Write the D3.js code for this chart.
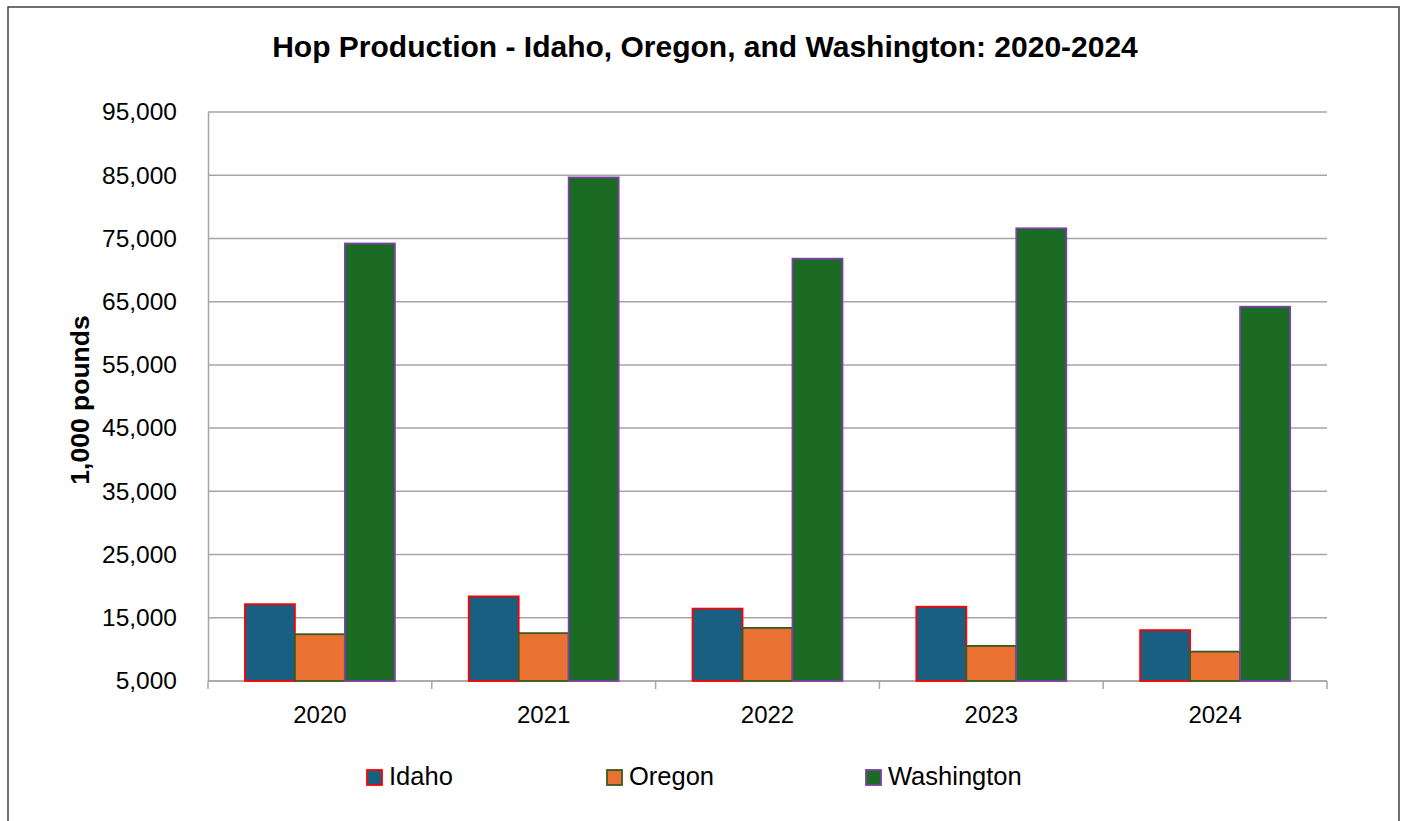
<!DOCTYPE html>
<html>
<head>
<meta charset="utf-8">
<script src="https://cdn.jsdelivr.net/npm/d3@7"></script>
<style>
  body { margin: 0; background: #fff; }
  svg { display: block; }
</style>
</head>
<body>
<svg id="chart" width="1406" height="821"></svg>
<script>
// data
var years = ["2020", "2021", "2022", "2023", "2024"];
var states = ["Idaho", "Oregon", "Washington"];
var idaho = [17150, 18380, 16450, 16750, 13050];
var oregon = [12400, 12570, 13400, 10550, 9650];
var washington = [74200, 84650, 71800, 76600, 64200];
var yTicks = [5000, 15000, 25000, 35000, 45000, 55000, 65000, 75000, 85000, 95000];

var fills = ["#185f82", "#e97132", "#1b6b24"];
var strokes = ["#ff0000", "#3a5a1e", "#7b3fa6"];

var svg = d3.select("#chart"),
    margin = {left: 208, right: 79, top: 112, bottom: 140},
    width = 1406 - margin.left - margin.right,
    height = 821 - margin.top - margin.bottom;

// outer frame
svg.append("rect")
    .attr("x", 8).attr("y", 7)
    .attr("width", 1391).attr("height", 830)
    .attr("fill", "none")
    .attr("stroke", "#404040")
    .attr("stroke-width", 1.5);

svg.append("text")
    .attr("x", 705).attr("y", 57)
    .attr("text-anchor", "middle")
    .style("font-family", "'Liberation Sans', Arial, sans-serif")
    .style("font-weight", "bold")
    .style("font-size", "30px")
    .text("Hop Production - Idaho, Oregon, and Washington: 2020-2024");

var g = svg.append("g")
    .attr("transform", "translate(" + margin.left + "," + margin.top + ")");

var x = d3.scaleBand().domain(years).range([0, width]).paddingInner(0.33).paddingOuter(0.165);
var xs = d3.scaleBand().domain(states).range([0, x.bandwidth()]);
var y = d3.scaleLinear().domain([5000, 95000]).range([height, 0]);

//gridlines
g.selectAll(".grid")
    .data(yTicks)
    .enter().append("line")
    .attr("x1", 0).attr("x2", width)
    .attr("y1", function (d) { return y(d); })
    .attr("y2", function (d) { return y(d); })
    .attr("stroke", "#a6a6a6")
    .attr("stroke-width", 1.5);

// y axis
var yAxis = g.append("g")
    .call(d3.axisLeft(y).tickValues(yTicks).tickFormat(d3.format(",")).tickSize(0).tickPadding(31));
yAxis.select(".domain").attr("stroke", "#a6a6a6").attr("stroke-width", 1.5);
yAxis.selectAll("text")
    .style("font-family", "'Liberation Sans', Arial, sans-serif")
    .style("font-size", "24.5px")
    .attr("fill", "#000");

// x axis with ticks at band edges
var xAxis = g.append("g").attr("transform", "translate(0," + height + ")");
var edges = d3.range(years.length + 1).map(function (i) { return i * width / years.length; });
xAxis.append("line")
    .attr("x1", 0).attr("x2", width)
    .attr("stroke", "#a6a6a6").attr("stroke-width", 1.5);
xAxis.selectAll(".tk")
    .data(edges)
    .enter().append("line")
    .attr("x1", function (d) { return d; }).attr("x2", function (d) { return d; })
    .attr("y1", 0).attr("y2", 8)
    .attr("stroke", "#a6a6a6").attr("stroke-width", 1.5);
xAxis.selectAll(".lbl")
    .data(years)
    .enter().append("text")
    .attr("x", function (d, i) { return (edges[i] + edges[i + 1]) / 2; })
    .attr("y", 42)
    .attr("text-anchor", "middle")
    .style("font-family", "'Liberation Sans', Arial, sans-serif")
    .style("font-size", "24px")
    .text(function (d) { return d; });

// y title
svg.append("text")
    .attr("transform", "translate(89,400) rotate(-90)")
    .attr("text-anchor", "middle")
    .style("font-family", "'Liberation Sans', Arial, sans-serif")
    .style("font-weight", "bold")
    .style("font-size", "26.5px")
    .text("1,000 pounds");

// bars
var series = [idaho, oregon, washington];
series.forEach(function (vals, s) {
    g.selectAll(".bar" + s)
        .data(vals)
        .enter().append("rect")
        .attr("x", function (d, i) { return x(years[i]) + xs(states[s]); })
        .attr("y", function (d) { return y(d); })
        .attr("width", xs.bandwidth())
        .attr("height", function (d) { return y(5000) - y(d); })
        .attr("fill", fills[s])
        .attr("stroke", strokes[s])
        .attr("stroke-width", 1.8);
});

// legend
var legendX = [367, 607, 866];
var legend = svg.selectAll(".legend")
    .data(states)
    .enter().append("g")
    .attr("transform", function (d, i) { return "translate(" + legendX[i] + ",770)"; });
legend.append("rect")
    .attr("width", 15).attr("height", 15)
    .attr("fill", function (d, i) { return fills[i]; })
    .attr("stroke", function (d, i) { return strokes[i]; })
    .attr("stroke-width", 1.8);
legend.append("text")
    .attr("x", 22).attr("y", 15)
    .style("font-family", "'Liberation Sans', sans-serif")
    .style("font-size", "25.5px")
    .text(function (d) { return d; });
</script>
</body>
</html>
